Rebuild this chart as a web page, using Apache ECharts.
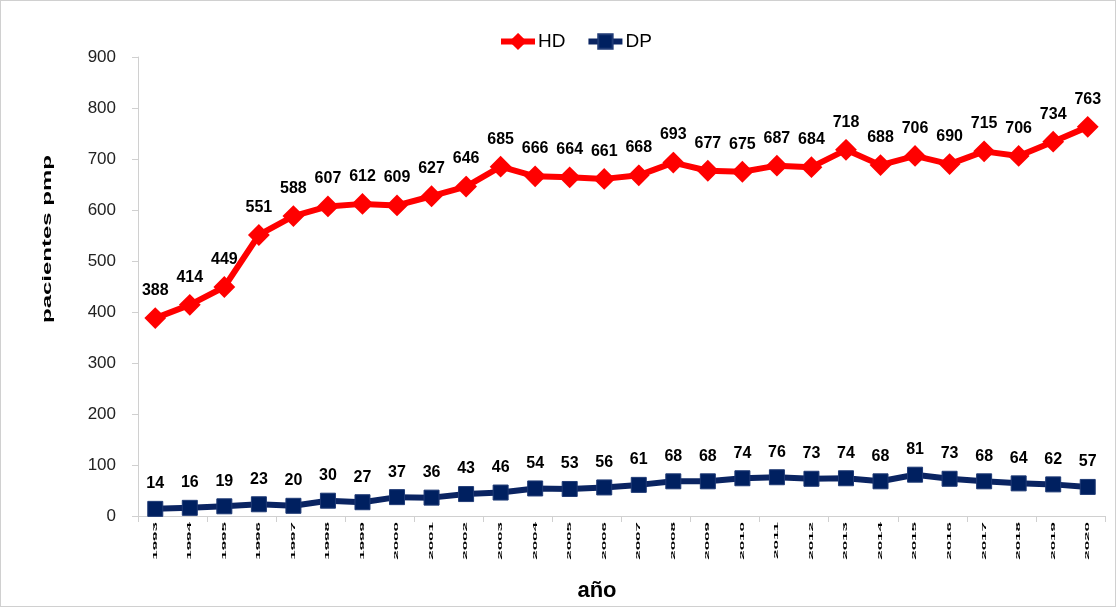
<!DOCTYPE html>
<html>
<head>
<meta charset="utf-8">
<script src="https://cdn.jsdelivr.net/npm/echarts@6/dist/echarts.min.js"></script>
<style>
html,body{margin:0;padding:0;background:#fff;}
#c{width:1114px;height:605px;border:1px solid #d0d0d0;}
</style>
</head>
<body>
<div id="c"></div>
<script>
const years = ['1993','1994','1995','1996','1997','1998','1999','2000','2001','2002','2003','2004','2005','2006','2007','2008','2009','2010','2011','2012','2013','2014','2015','2016','2017','2018','2019','2020'];
const hdValues = [388,414,449,551,588,607,612,609,627,646,685,666,664,661,668,693,677,675,687,684,718,688,706,690,715,706,734,763];
const dpValues = [14,16,19,23,20,30,27,37,36,43,46,54,53,56,61,68,68,74,76,73,74,68,81,73,68,64,62,57];
const yTicks = [0,100,200,300,400,500,600,700,800,900];
const seriesNames = ['HD','DP'];
const xTitle = 'año';
const yTitle = 'pacientes pmp';

const FONT = '"Liberation Sans", Arial, sans-serif';
const chart = echarts.init(document.getElementById('c'), null, {renderer:'canvas'});

const labelStyle = {show:true, position:'top', distance:9, color:'#000', fontSize:16, fontWeight:'bold', fontFamily:FONT};

const option = {
  animation:false,
  backgroundColor:'#fff',
  textStyle:{fontFamily:FONT},
  legend:{
    top:26, left:492, itemGap:20, itemWidth:34, itemHeight:18,
    lineStyle:{width:6},
    textStyle:{fontSize:19, color:'#000', fontFamily:FONT, padding:[0,0,0,-2]},
    data:seriesNames
  },
  grid:{left:137, right:10, top:56, bottom:90, containLabel:false},
  xAxis:{
    type:'category', data:years, boundaryGap:true,
    axisLine:{lineStyle:{color:'#d0d0d0', width:1}},
    axisTick:{show:true, length:6, lineStyle:{color:'#d0d0d0'}},
    axisLabel:{show:false},
    splitLine:{show:false}
  },
  yAxis:{
    type:'value', min:yTicks[0], max:yTicks[yTicks.length-1], interval:100,
    axisLine:{show:true, lineStyle:{color:'#d0d0d0'}},
    axisTick:{show:true, length:6, lineStyle:{color:'#d0d0d0'}},
    axisLabel:{color:'#222', fontSize:17, margin:22, fontFamily:FONT},
    splitLine:{show:false}
  },
  series:[
    {
      name:seriesNames[0], type:'line', data:hdValues,
      symbol:'diamond', symbolSize:19,
      lineStyle:{color:'#ff0000', width:6},
      itemStyle:{color:'#ff0000', borderColor:'#ff0000', borderWidth:2},
      label:labelStyle
    },
    {
      name:seriesNames[1], type:'line', data:dpValues,
      symbol:'rect', symbolSize:15,
      lineStyle:{color:'#0a2462', width:6},
      itemStyle:{color:'#002060', borderColor:'#1f3a75', borderWidth:1},
      label:labelStyle
    }
  ]
};
chart.setOption(option);

// squashed rotated year labels, placed with the axis scale
const g = [];
years.forEach(function(y, i){
  const px = chart.convertToPixel({xAxisIndex:0}, i);
  const py = chart.convertToPixel({yAxisIndex:0}, 0);
  g.push({
    type:'text', x:px, y:py + 6, rotation:Math.PI/2, scaleY:0.3,
    style:{text:y, fontSize:17, fontWeight:'bold', fill:'#000', fontFamily:FONT, align:'right', verticalAlign:'middle'}
  });
});
g.push({
  type:'text', x:47, y:238, rotation:Math.PI/2, scaleY:0.5,
  style:{text:yTitle, fontSize:24, fontWeight:'bold', fill:'#000', fontFamily:FONT, align:'center', verticalAlign:'middle'}
});
g.push({
  type:'text', x:596, y:590,
  style:{text:xTitle, fontSize:22, fontWeight:'bold', fill:'#000', fontFamily:FONT, align:'center', verticalAlign:'middle'}
});
chart.setOption({graphic:g});
</script>
</body>
</html>
